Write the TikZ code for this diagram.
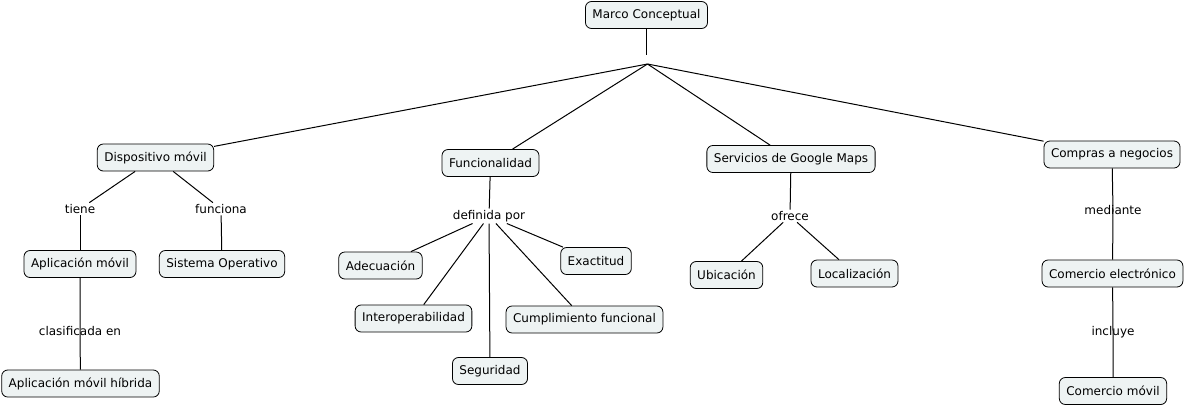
\documentclass[tikz,border=0pt]{standalone}
\usepackage{fontspec}
\setmainfont{DejaVu Sans}
\definecolor{rellenoconcepto}{RGB}{238,243,243}
\begin{document}
\begin{tikzpicture}[x=1pt,y=-1pt,
  concepto/.style={rectangle,rounded corners=6pt,draw=black,fill=rellenoconcepto,line width=0.8pt,
    minimum height=27pt,inner xsep=7pt,font=\fontsize{12}{14}\selectfont},
  frase/.style={inner sep=1.5pt,font=\fontsize{12}{14}\selectfont},
  arista/.style={draw=black,line width=1pt}]
  \useasboundingbox (0,0) rectangle (1186,408);

  % Concepto raíz y punto de enlace sin texto
  \node[concepto] (mc) at (646.5,15) {Marco Conceptual};
  \coordinate (hubA) at (646.5,55);
  \coordinate (hubB) at (647.5,64);

  % Conceptos del primer nivel
  \node[concepto] (dm) at (155.5,157.5) {Dispositivo móvil};
  \node[concepto] (fu) at (490.5,163) {Funcionalidad};
  \node[concepto] (sg) at (791,159) {Servicios de Google Maps};
  \node[concepto] (cn) at (1112,154.5) {Compras a negocios};

  % Rama del dispositivo móvil
  \node[frase] (tiene) at (80,209) {tiene};
  \node[frase] (funciona) at (221,209) {funciona};
  \node[concepto] (am) at (80,264) {Aplicación móvil};
  \node[concepto] (so) at (222,264) {Sistema Operativo};
  \node[frase] (clas) at (80,331) {clasificada en};
  \node[concepto] (amh) at (80.5,383.5) {Aplicación móvil híbrida};

  % Rama de la funcionalidad
  \node[frase] (defpor) at (489,216) {definida por};
  \node[concepto] (ad) at (380.5,265.5) {Adecuación};
  \node[concepto] (ex) at (596,261) {Exactitud};
  \node[concepto] (io) at (413.5,318.5) {Interoperabilidad};
  \node[concepto] (cf) at (584.5,319.5) {Cumplimiento funcional};
  \node[concepto] (se) at (490,371) {Seguridad};

  % Rama de Google Maps
  \node[frase] (ofrece) at (790,216) {ofrece};
  \node[concepto] (ub) at (726.5,275) {Ubicación};
  \node[concepto] (lo) at (854.5,273.5) {Localización};

  % Rama de las compras
  \node[frase] (mediante) at (1113,210) {mediante};
  \node[concepto] (ce) at (1112.5,273.5) {Comercio electrónico};
  \node[frase] (incluye) at (1113,332) {incluye};
  \node[concepto] (cm) at (1113,391) {Comercio móvil};

  % Enlaces desde la raíz
  \draw[arista] (mc) -- (hubA);
  \foreach \hacia in {dm, fu, sg, cn}
    \draw[arista] (hubB) -- (\hacia);

  % Enlaces de concepto a frase y de frase a concepto
  \foreach \desde/\hacia in {dm/tiene, tiene/am, dm/funciona, funciona/so,
      fu/defpor, defpor/ad, defpor/ex, defpor/io, defpor/cf, defpor/se,
      sg/ofrece, ofrece/ub, ofrece/lo}
    \draw[arista] (\desde) -- (\hacia);

  % Enlaces verticales que cruzan el texto de la frase
  \foreach \desde/\por/\hacia in {am/clas/amh, cn/mediante/ce, ce/incluye/cm}
    \draw[arista] (\desde) -- (\por.center) -- (\hacia);
\end{tikzpicture}
\end{document}
